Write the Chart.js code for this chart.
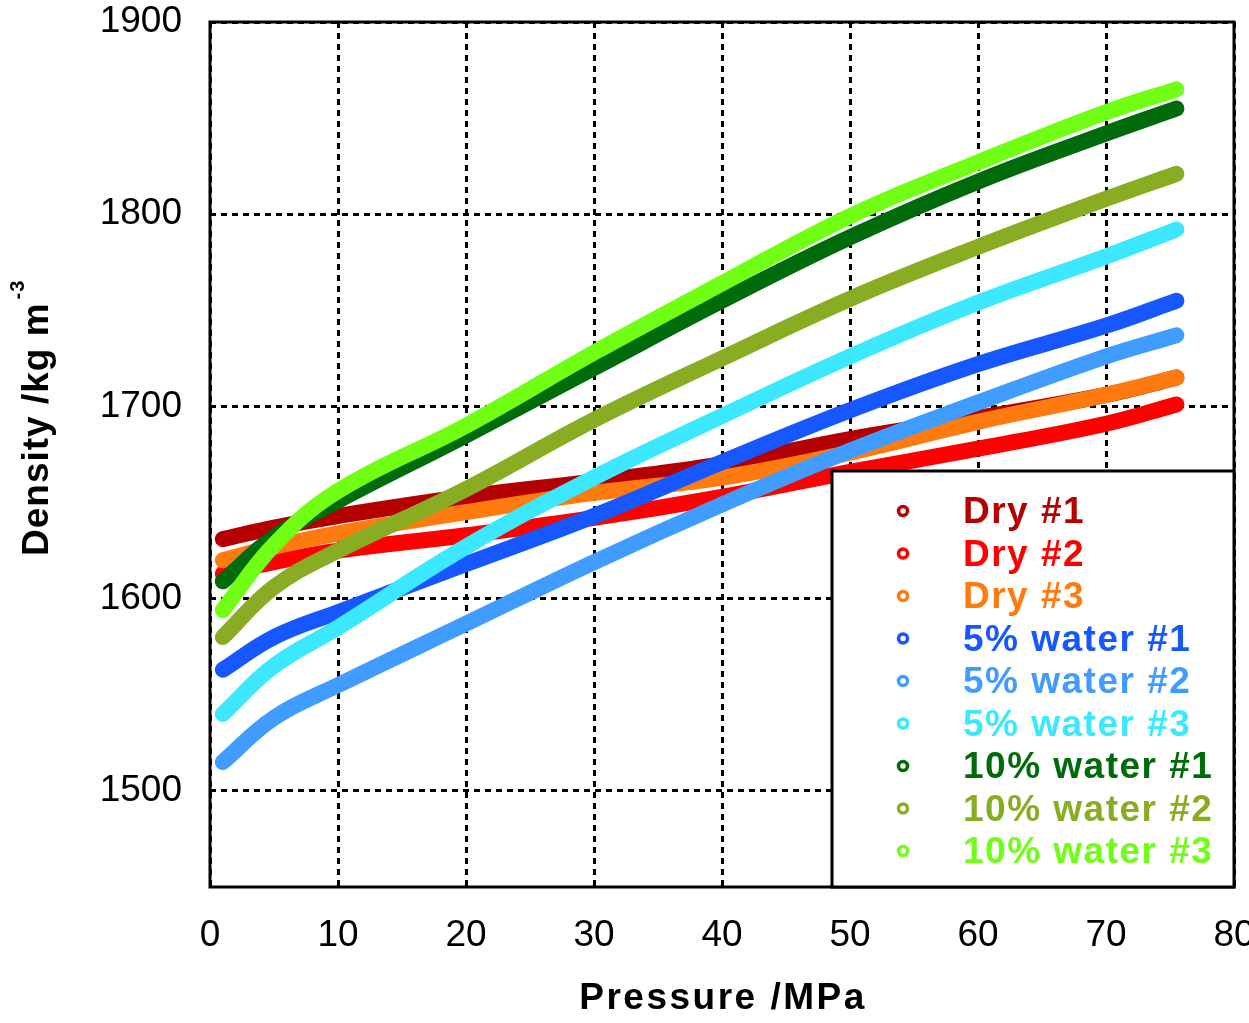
<!DOCTYPE html>
<html>
<head>
<meta charset="utf-8">
<title>Density vs pressure</title>
<script src="https://cdn.jsdelivr.net/npm/chart.js@4.4.1/dist/chart.umd.min.js"></script>
<style>
  html, body { margin: 0; padding: 0; background: #fff; overflow: hidden; }
  #wrap { width: 1249px; height: 1023px; }
</style>
</head>
<body>
<div id="wrap"><canvas id="grafico"></canvas></div>
<script>
// pressure (MPa) where each run was sampled
const pressure = [1, 5, 10, 20, 30, 40, 50, 60, 70, 75.5];

// density (kg m-3) for each run
const dry1 = [1631, 1637, 1643, 1653, 1661, 1670, 1683, 1694, 1706, 1715];
const dry2 = [1613, 1619, 1625, 1633, 1642, 1653, 1666, 1678, 1691, 1701];
const dry3 = [1620, 1627, 1634, 1645, 1655, 1663, 1676, 1692, 1706, 1715];
const water5_1 = [1563, 1580, 1593, 1618, 1643, 1671, 1698, 1722, 1742, 1755];
const water5_2 = [1515, 1538, 1555, 1587, 1619, 1649, 1677, 1702, 1726, 1737];
const water5_3 = [1540, 1565, 1585, 1627, 1663, 1695, 1726, 1754, 1778, 1792];
const water10_1 = [1609, 1632, 1651, 1685, 1720, 1755, 1788, 1817, 1842, 1855];
const water10_2 = [1580, 1606, 1625, 1657, 1693, 1725, 1756, 1783, 1808, 1821];
const water10_3 = [1594, 1628, 1656, 1690, 1728, 1764, 1799, 1827, 1853, 1865];

const seriesNames = ['Dry #1', 'Dry #2', 'Dry #3',
  '5% water #1', '5% water #2', '5% water #3',
  '10% water #1', '10% water #2', '10% water #3'];
const seriesData = [dry1, dry2, dry3, water5_1, water5_2, water5_3, water10_1, water10_2, water10_3];
const seriesColors = ['#b40000', '#ff0000', '#ff7b0f',
  '#1657ff', '#409cff', '#3ce8ff',
  '#006b0a', '#88ad22', '#70ff14'];

const xTicks = [0, 10, 20, 30, 40, 50, 60, 70, 80];
const yTicks = [1500, 1600, 1700, 1800, 1900];

const FONT = 'Liberation Sans, Arial, sans-serif';

// box around the plot area
const frame = {
  id: 'frame',
  afterDatasetsDraw(chart) {
    const a = chart.chartArea;
    const ctx = chart.ctx;
    ctx.save();
    ctx.strokeStyle = '#000';
    ctx.lineWidth = 3;
    ctx.strokeRect(a.left, a.top, a.right - a.left, a.bottom - a.top);
    ctx.restore();
  }
};

// legend in the lower right corner of the plot
const legendBox = {
  id: 'legendBox',
  afterDraw(chart) {
    const a = chart.chartArea;
    const ctx = chart.ctx;
    const w = 402, h = 416;
    const left = a.right - w, top = a.bottom - h;
    ctx.save();
    ctx.fillStyle = '#fff';
    ctx.fillRect(left, top, w, h);
    ctx.strokeStyle = '#000';
    ctx.lineWidth = 3;
    ctx.strokeRect(left, top, w, h);
    ctx.font = 'bold 37px ' + FONT;
    ctx.letterSpacing = '1.5px';
    ctx.textBaseline = 'middle';
    ctx.textAlign = 'left';
    chart.data.datasets.forEach((ds, i) => {
      const y = top + 40 + i * 42.5;
      ctx.strokeStyle = ds.borderColor;
      ctx.lineWidth = 3.5;
      ctx.beginPath();
      ctx.arc(left + 71, y, 4.5, 0, Math.PI * 2);
      ctx.stroke();
      ctx.fillStyle = ds.borderColor;
      ctx.fillText(ds.label, left + 131, y + 2);
    });
    ctx.restore();
  }
};

// axis titles (y one carries the superscript unit)
const axisTitles = {
  id: 'axisTitles',
  afterDraw(chart) {
    const ctx = chart.ctx;
    const a = chart.chartArea;
    ctx.save();
    ctx.fillStyle = '#000';
    ctx.font = 'bold 37px ' + FONT;
    ctx.letterSpacing = '2.5px';
    ctx.textAlign = 'center';
    ctx.textBaseline = 'middle';
    ctx.fillText('Pressure /MPa', (a.left + a.right) / 2 + 1, 999);

    ctx.translate(48, 556);
    ctx.rotate(-Math.PI / 2);
    ctx.letterSpacing = '1px';
    ctx.textBaseline = 'alphabetic';
    ctx.textAlign = 'left';
    const txt = 'Density /kg m';
    ctx.fillText(txt, 0, 0);
    const w = ctx.measureText(txt).width;
    ctx.font = 'bold 20px ' + FONT;
    ctx.fillText('-3', w + 3, -24);
    ctx.restore();
  }
};

const ctx = document.getElementById('grafico');

new Chart(ctx, {
  type: 'line',
  data: {
    datasets: seriesData.map((vals, i) => ({
      label: seriesNames[i],
      data: pressure.map((p, j) => ({ x: p, y: vals[j] })),
      borderColor: seriesColors[i],
      backgroundColor: seriesColors[i],
      borderWidth: 16,
      borderCapStyle: 'round',
      borderJoinStyle: 'round',
      pointRadius: 0,
      tension: 0.4,
      fill: false,
      order: seriesData.length - i
    }))
  },
  options: {
    responsive: true,
    maintainAspectRatio: false,
    animation: false,
    devicePixelRatio: 1,
    layout: { padding: { top: 22, right: 15, bottom: 0, left: 0 } },
    plugins: {
      legend: { display: false },
      tooltip: { enabled: false }
    },
    scales: {
      x: {
        type: 'linear',
        min: 0,
        max: 80,
        afterBuildTicks: (axis) => { axis.ticks = xTicks.map(v => ({ value: v })); },
        afterFit: (axis) => { axis.height = 136; axis.paddingLeft = 0; axis.paddingRight = 0; },
        grid: { color: '#000', lineWidth: 3, drawTicks: false },
        border: { display: false, dash: [6, 5] },
        ticks: { color: '#000', font: { family: FONT, size: 37 }, padding: 27, maxRotation: 0,
          callback: (v) => String(v) }
      },
      y: {
        type: 'linear',
        min: 1450,
        max: 1900,
        afterBuildTicks: (axis) => { axis.ticks = yTicks.map(v => ({ value: v })); },
        afterFit: (axis) => { axis.width = 210; axis.paddingTop = 0; axis.paddingBottom = 0; },
        grid: { color: '#000', lineWidth: 3, drawTicks: false },
        border: { display: false, dash: [6, 5] },
        ticks: { color: '#000', font: { family: FONT, size: 37 }, padding: 28,
          callback: (v) => String(v) }
      }
    }
  },
  plugins: [frame, legendBox, axisTitles]
});
</script>
</body>
</html>
